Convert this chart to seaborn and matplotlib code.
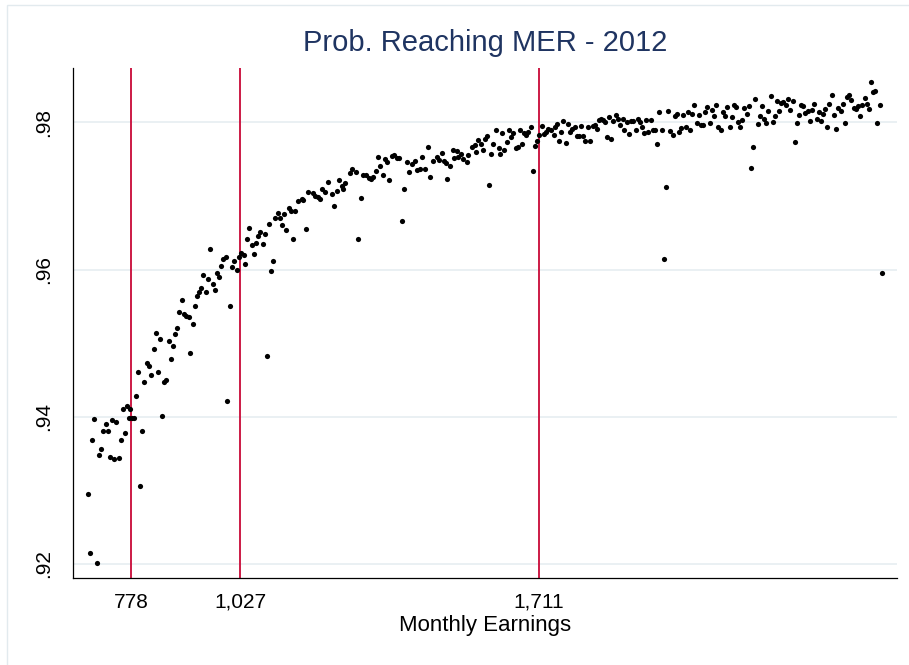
import matplotlib
matplotlib.use("Agg")
import matplotlib.pyplot as plt
import seaborn as sns
import pandas as pd
from matplotlib.patches import Rectangle

# Binned monthly earnings (x) and probability of reaching MER (y)
earnings = [
    678, 684, 688, 693, 699, 703, 709, 713, 719, 724,
    729, 734, 738, 744, 749, 754, 758, 764, 769, 772,
    776, 780, 784, 789, 793, 798, 803, 808, 813, 819,
    823, 829, 834, 839, 844, 848, 853, 858, 864, 868,
    874, 879, 883, 888, 894, 899, 903, 909, 913, 919,
    924, 929, 934, 938, 943, 949, 954, 958, 964, 969,
    974, 979, 984, 989, 994, 998, 1003, 1008, 1013, 1019,
    1024, 1029, 1035, 1038, 1042, 1048, 1054, 1058, 1064, 1069,
    1073, 1079, 1084, 1088, 1093, 1098, 1103, 1108, 1113, 1119,
    1123, 1128, 1133, 1139, 1143, 1148, 1153, 1159, 1168, 1172,
    1178, 1183, 1193, 1199, 1206, 1210, 1214, 1222, 1228, 1237,
    1243, 1248, 1254, 1260, 1262, 1267, 1279, 1284, 1293, 1298,
    1303, 1308, 1316, 1322, 1327, 1332, 1338, 1343, 1348, 1354,
    1358, 1364, 1368, 1374, 1380, 1386, 1392, 1398, 1403, 1409,
    1413, 1420, 1428, 1433, 1438, 1443, 1451, 1458, 1462, 1470,
    1477, 1483, 1489, 1493, 1499, 1502, 1508, 1514, 1517, 1523,
    1527, 1532, 1538, 1546, 1550, 1558, 1564, 1567, 1573, 1578,
    1583, 1589, 1593, 1598, 1602, 1607, 1613, 1619, 1622, 1627,
    1632, 1638, 1643, 1648, 1653, 1658, 1664, 1668, 1673, 1677,
    1682, 1687, 1693, 1698, 1703, 1708, 1712, 1718, 1723, 1728,
    1733, 1739, 1745, 1748, 1754, 1758, 1763, 1767, 1773, 1778,
    1783, 1788, 1793, 1798, 1803, 1809, 1813, 1818, 1824, 1829,
    1835, 1840, 1845, 1850, 1854, 1859, 1863, 1868, 1873, 1877,
    1882, 1887, 1893, 1898, 1903, 1907, 1913, 1918, 1922, 1928,
    1933, 1938, 1943, 1948, 1953, 1957, 1962, 1968, 1972, 1977,
    1982, 1987, 1993, 1997, 2003, 2007, 2012, 2018, 2023, 2027,
    2032, 2037, 2042, 2048, 2052, 2058, 2063, 2067, 2073, 2078,
    2083, 2088, 2093, 2097, 2103, 2107, 2113, 2117, 2122, 2128,
    2133, 2138, 2143, 2148, 2153, 2158, 2163, 2168, 2173, 2177,
    2182, 2187, 2193, 2197, 2202, 2207, 2213, 2218, 2222, 2227,
    2232, 2237, 2242, 2248, 2252, 2257, 2262, 2267, 2271, 2277,
    2282, 2287, 2293, 2297, 2302, 2307, 2312, 2317, 2322, 2327,
    2332, 2337, 2342, 2348, 2352, 2357, 2362, 2367, 2372, 2376,
    2382, 2387, 2393, 2397, 2403, 2407, 2412, 2416, 2422, 2427,
    2432, 2437, 2442, 2448, 2452, 2458, 2462, 2467, 2472, 2477,
    2481, 2486, 2492, 2497,
]

prob = [
    .9295, .9215, .9368, .9397, .9201, .9348, .9356, .9381, .9390, .9381,
    .9345, .9396, .9342, .9393, .9344, .9368, .9410, .9378, .9415, .9398,
    .9410, .9398, .9398, .9428, .9461, .9306, .9381, .9447, .9473, .9469,
    .9457, .9492, .9514, .9461, .9505, .9401, .9447, .9450, .9503, .9478,
    .9496, .9512, .9520, .9543, .9558, .9539, .9537, .9536, .9486, .9526,
    .9550, .9564, .9570, .9575, .9593, .9570, .9587, .9628, .9580, .9572,
    .9595, .9590, .9605, .9615, .9617, .9421, .9550, .9603, .9611, .9600,
    .9617, .9622, .9620, .9608, .9642, .9656, .9634, .9621, .9636, .9646,
    .9651, .9635, .9648, .9483, .9662, .9598, .9612, .9670, .9677, .9670,
    .9661, .9676, .9654, .9683, .9679, .9642, .9680, .9693, .9696, .9694,
    .9655, .9705, .9704, .9700, .9698, .9696, .9709, .9706, .9719, .9703,
    .9687, .9707, .9721, .9714, .9709, .9717, .9731, .9737, .9732, .9641,
    .9697, .9728, .9729, .9725, .9723, .9726, .9734, .9753, .9741, .9729,
    .9750, .9746, .9722, .9754, .9755, .9752, .9752, .9666, .9709, .9746,
    .9733, .9743, .9747, .9735, .9736, .9753, .9737, .9767, .9726, .9748,
    .9753, .9749, .9758, .9747, .9745, .9723, .9741, .9763, .9751, .9761,
    .9753, .9757, .9750, .9746, .9756, .9767, .9769, .9760, .9776, .9771,
    .9763, .9778, .9781, .9715, .9757, .9771, .9790, .9765, .9757, .9785,
    .9763, .9773, .9790, .9780, .9786, .9765, .9767, .9789, .9770, .9786,
    .9783, .9787, .9794, .9734, .9768, .9775, .9783, .9795, .9784, .9787,
    .9791, .9789, .9783, .9794, .9798, .9774, .9787, .9802, .9772, .9798,
    .9787, .9791, .9794, .9782, .9782, .9795, .9782, .9774, .9794, .9774,
    .9795, .9796, .9791, .9803, .9804, .9803, .9800, .9780, .9807, .9777,
    .9802, .9810, .9805, .9796, .9805, .9789, .9800, .9784, .9802, .9802,
    .9790, .9805, .9800, .9793, .9786, .9803, .9787, .9803, .9789, .9789,
    .9771, .9814, .9790, .9615, .9712, .9816, .9788, .9783, .9808, .9811,
    .9787, .9792, .9810, .9794, .9814, .9790, .9811, .9823, .9799, .9810,
    .9796, .9796, .9814, .9821, .9799, .9817, .9809, .9823, .9793, .9790,
    .9814, .9809, .9821, .9794, .9807, .9823, .9821, .9800, .9794, .9803,
    .9820, .9811, .9822, .9738, .9767, .9832, .9798, .9808, .9822, .9804,
    .9799, .9816, .9836, .9801, .9809, .9829, .9816, .9826, .9828, .9824,
    .9831, .9817, .9829, .9773, .9799, .9810, .9823, .9822, .9812, .9815,
    .9802, .9817, .9825, .9805, .9814, .9802, .9811, .9818, .9793, .9825,
    .9837, .9810, .9791, .9820, .9815, .9825, .9799, .9835, .9837, .9830,
    .9820, .9818, .9822, .9809, .9823, .9833, .9825, .9818, .9855, .9841,
    .9843, .9799, .9823, .9595,
]

# vertical reference lines (also the x ticks)
cutoffs = [778, 1027, 1711]
cutoff_labels = ["778", "1,027", "1,711"]

y_ticks = [0.92, 0.94, 0.96, 0.98]
y_tick_labels = [".92", ".94", ".96", ".98"]

sns.set_style("white")
plt.rcParams["font.family"] = ["Liberation Sans", "DejaVu Sans"]

fig = plt.figure(figsize=(9.09, 6.65), dpi=100)
ax = fig.add_axes([0.0806, 0.1304, 0.9059, 0.7678])

df = pd.DataFrame({"earnings": earnings, "prob": prob})

for c in cutoffs:
    ax.axvline(c, color="#cc1a45", lw=1.4, zorder=2)

sns.scatterplot(data=df, x="earnings", y="prob", color="black", s=14,
                linewidth=0, ax=ax, zorder=3)

ax.set_xlim(645, 2531)
ax.set_ylim(0.91806, 0.98742)

ax.set_xticks(cutoffs)
ax.set_xticklabels(cutoff_labels)
ax.set_yticks(y_ticks)
ax.set_yticklabels(y_tick_labels, rotation=90, va="center")

ax.yaxis.grid(True, color="#e6eef1", lw=1.2)
ax.xaxis.grid(False)
ax.set_axisbelow(True)

for side in ["top", "right"]:
    ax.spines[side].set_visible(False)
for side in ["left", "bottom"]:
    ax.spines[side].set_color("black")
    ax.spines[side].set_linewidth(0.9)

ax.tick_params(axis="both", length=6.5, width=0.8, color="#222222",
               labelsize=15, labelcolor="black")
ax.tick_params(axis="x", pad=4)
ax.tick_params(axis="y", pad=8)

ax.set_xlabel("Monthly Earnings", fontsize=16, labelpad=2, color="black")
ax.set_ylabel("")
ax.set_title("Prob. Reaching MER - 2012", fontsize=21, color="#1f3461", pad=12)

# light outer frame of the graph region
fig.patches.append(Rectangle((6.5 / 909, -0.01), 1.0, 1 - 4.5 / 665 + 0.01,
                             transform=fig.transFigure, fill=False,
                             edgecolor="#e2eaee", lw=1))

fig.savefig("out.png", dpi=100)
